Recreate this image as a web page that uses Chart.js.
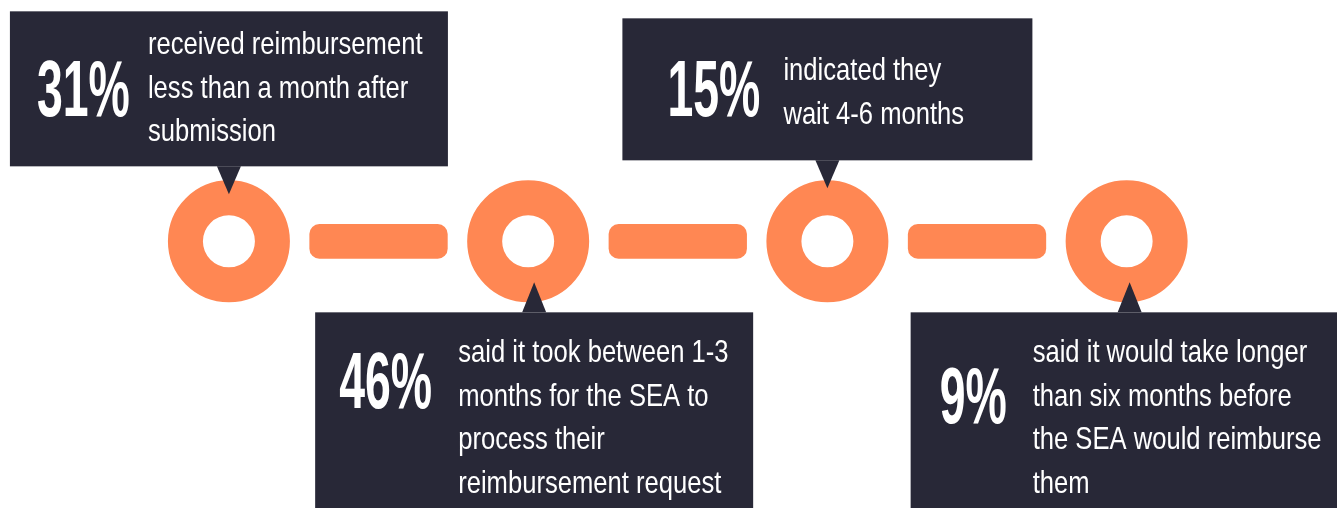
<!DOCTYPE html>
<html>
<head>
<meta charset="utf-8">
<script src="https://cdn.jsdelivr.net/npm/chart.js@4.4.1/dist/chart.umd.min.js"></script>
<style>
  html, body { margin: 0; padding: 0; background: #ffffff; }
  #wrap { width: 1337px; height: 508px; }
</style>
</head>
<body>
<div id="wrap"><canvas id="timeline"></canvas></div>
<script>
// Reimbursement timeline data
const steps = [0, 1, 2, 3];
const percents = ['31%', '46%', '15%', '9%'];
const descriptions = [
    ['received reimbursement', 'less than a month after', 'submission'],
    ['said it took between 1-3', 'months for the SEA to', 'process their', 'reimbursement request'],
    ['indicated they', 'wait 4-6 months'],
    ['said it would take longer', 'than six months before', 'the SEA would reimburse', 'them']
];
const connectorGap = 0.27;

const ORANGE = '#FF8753';
const NAVY = '#282837';

// callout box layout, offsets from the ring centre (px)
const calloutLayout = [
    { left: -219, right: 219, top: -230, bottom: -75, tipX: 0, tipY: -47, pctX: -192, pctY: -125, textX: -81, textY: -187 },
    { left: -213, right: 225, top: 71, bottom: 290, tipX: 6, tipY: 41, pctX: -189, pctY: 167, textX: -70, textY: 121 },
    { left: -205, right: 205, top: -223, bottom: -81, tipX: 0, tipY: -53, pctX: -160, pctY: -125, textX: -44, textY: -161 },
    { left: -216, right: 240, top: 71, bottom: 290, tipX: 3, tipY: 41, pctX: -187, pctY: 182, textX: -94, textY: 121 }
];

const connectors = steps.slice(0, -1).map(s => ({ x: [s + connectorGap, s + 1 - connectorGap], y: 0 }));
const rings = steps.map(s => ({ x: s, y: 0 }));

const calloutPlugin = {
    id: 'callouts',
    afterDatasetsDraw(chart) {
        const ctx = chart.ctx;
        const xScale = chart.scales.x;
        const yScale = chart.scales.y;
        const cy = yScale.getPixelForValue(0);

        steps.forEach((s, i) => {
            const cx = xScale.getPixelForValue(s);
            const L = calloutLayout[i];
            const above = L.top < 0;
            const edge = above ? cy + L.bottom : cy + L.top;

            ctx.save();
            ctx.fillStyle = NAVY;
            ctx.fillRect(cx + L.left, cy + L.top, L.right - L.left, L.bottom - L.top);

            // pointer
            ctx.beginPath();
            ctx.moveTo(cx + L.tipX - 12, edge);
            ctx.lineTo(cx + L.tipX + 12, edge);
            ctx.lineTo(cx + L.tipX, cy + L.tipY);
            ctx.closePath();
            ctx.fill();

            // big percentage
            ctx.fillStyle = '#ffffff';
            ctx.textBaseline = 'alphabetic';
            ctx.textAlign = 'left';
            ctx.save();
            ctx.translate(cx + L.pctX, cy + L.pctY);
            ctx.scale(0.58, 1);
            ctx.font = 'bold 80px "Liberation Sans", Arial, sans-serif';
            ctx.fillText(percents[i], 0, 0);
            ctx.restore();

            // description lines
            descriptions[i].forEach((line, j) => {
                ctx.save();
                ctx.translate(cx + L.textX, cy + L.textY + j * 43.5);
                ctx.scale(0.8, 1);
                ctx.font = '32px "Liberation Sans", Arial, sans-serif';
                ctx.fillText(line, 0, 0);
                ctx.restore();
            });
            ctx.restore();
        });
    }
};

const chart = new Chart(document.getElementById('timeline'), {
    type: 'scatter',
    data: {
        datasets: [{
            type: 'bar',
            indexAxis: 'y',
            data: connectors,
            backgroundColor: ORANGE,
            borderSkipped: false,
            borderRadius: 10,
            barThickness: 34
        }, {
            type: 'scatter',
            data: rings,
            pointStyle: 'circle',
            pointRadius: 43.5,
            pointHoverRadius: 43.5,
            borderWidth: 35,
            pointBorderWidth: 35,
            pointHoverBorderWidth: 35,
            borderColor: ORANGE,
            backgroundColor: '#ffffff',
            clip: false
        }]
    },
    options: {
        responsive: true,
        maintainAspectRatio: false,
        animation: false,
        events: [],
        layout: { padding: 0, autoPadding: false },
        plugins: {
            legend: { display: false },
            tooltip: { enabled: false }
        },
        scales: {
            x: { type: 'linear', min: -0.765, max: 3.703, display: false },
            y: { type: 'linear', min: -1, max: 0.896, display: false }
        }
    },
    plugins: [calloutPlugin]
});
</script>
</body>
</html>
